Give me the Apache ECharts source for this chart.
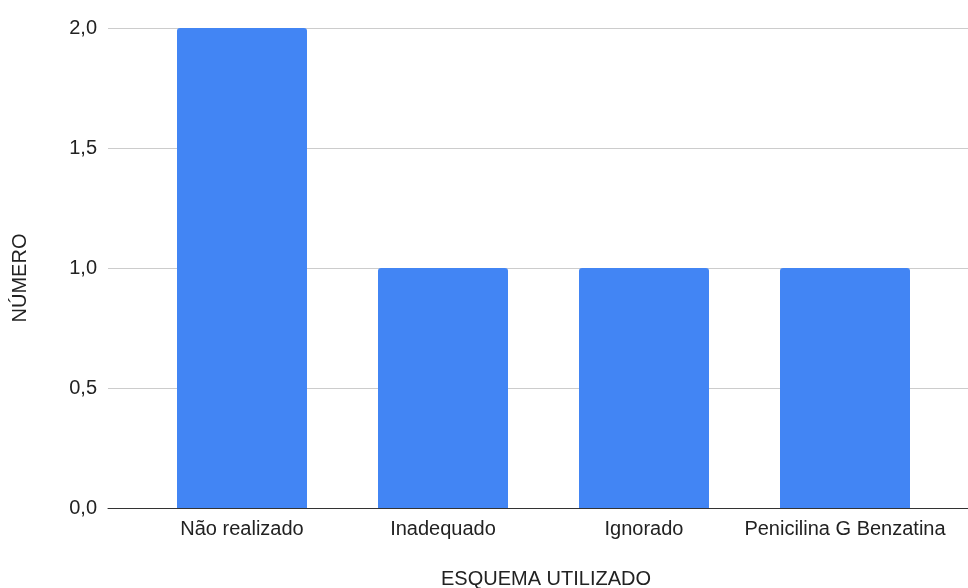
<!DOCTYPE html>
<html>
<head>
<meta charset="utf-8">
<script src="https://cdn.jsdelivr.net/npm/echarts@6/dist/echarts.min.js"></script>
<style>
  html, body { margin: 0; padding: 0; background: #fff; }
  #chart { width: 968px; height: 588px; }
</style>
</head>
<body>
<div id="chart"></div>
<script>
// Esquema utilizado — número de casos
const categories = ['Não realizado', 'Inadequado', 'Ignorado', 'Penicilina G Benzatina'];
const values = [2, 1, 1, 1];
const yTicks = [0, 0.5, 1, 1.5, 2];

const font = '"Liberation Sans", Arial, sans-serif';
const textColor = '#222222';
const chart = echarts.init(document.getElementById('chart'));

chart.setOption({
  backgroundColor: '#ffffff',
  textStyle: { fontFamily: font },
  grid: [
    // frame grid: gridlines and baseline
    { left: 108, right: 0, top: 28, bottom: 80, outerBoundsMode: 'none', containLabel: false },
    // bar grid: category band slightly inset
    { left: 141.5, right: 22.5, top: 28, bottom: 80, outerBoundsMode: 'none', containLabel: false }
  ],
  xAxis: [
    {
      gridIndex: 0, type: 'value', min: 0, max: 1,
      axisLine: { show: true, onZero: false, lineStyle: { color: '#333333', width: 1 } },
      axisTick: { show: false }, axisLabel: { show: false }, splitLine: { show: false }
    },
    {
      gridIndex: 1, type: 'category', data: categories,
      axisLine: { show: false }, axisTick: { show: false },
      axisLabel: { color: textColor, fontSize: 20, margin: 11, fontFamily: font, interval: 0 }
    }
  ],
  yAxis: [
    {
      gridIndex: 0, type: 'value', min: yTicks[0], max: yTicks[yTicks.length - 1], interval: 0.5,
      axisLine: { show: false }, axisTick: { show: false },
      axisLabel: {
        color: textColor, fontSize: 20, margin: 11, fontFamily: font,
        formatter: v => v.toFixed(1).replace('.', ',')
      },
      splitLine: { show: true, lineStyle: { color: '#cccccc', width: 1 } }
    },
    {
      gridIndex: 1, type: 'value', min: 0, max: 2, show: false,
      splitLine: { show: false }
    }
  ],
  graphic: [
    {
      type: 'text', x: 546, y: 579,
      style: {
        text: 'ESQUEMA UTILIZADO', fill: textColor, font: '20px ' + font,
        align: 'center', verticalAlign: 'middle'
      }
    },
    {
      type: 'text', x: 20, y: 278, rotation: Math.PI / 2,
      style: {
        text: 'NÚMERO', fill: textColor, font: '20px ' + font,
        align: 'center', verticalAlign: 'middle'
      }
    }
  ],
  series: [{
    type: 'bar',
    xAxisIndex: 1, yAxisIndex: 1,
    data: values,
    barWidth: 130,
    itemStyle: { color: '#4285f4', borderRadius: [3, 3, 0, 0] },
    z: 1
  }]
});
</script>
</body>
</html>
